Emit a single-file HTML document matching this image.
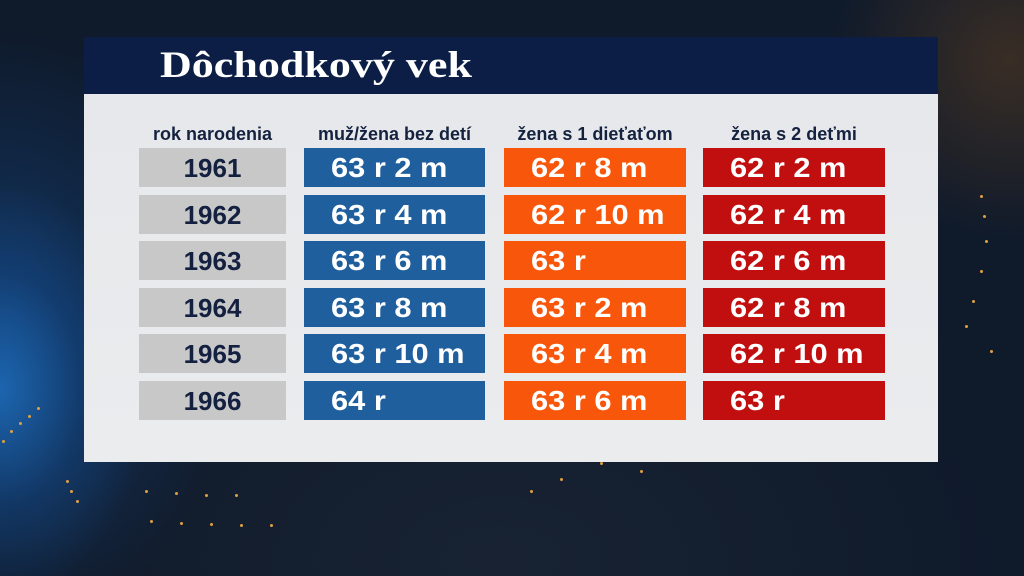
<!DOCTYPE html>
<html><head><meta charset="utf-8">
<style>
html,body{margin:0;padding:0;}
body{width:1024px;height:576px;overflow:hidden;position:relative;
background:
 radial-gradient(ellipse 150px 210px at 0px 390px, rgba(30,110,190,0.85), rgba(20,80,150,0.4) 55%, rgba(0,0,0,0) 100%),
 radial-gradient(ellipse 240px 300px at 0px 330px, rgba(20,70,130,0.65), rgba(0,0,0,0) 100%),
 radial-gradient(ellipse 180px 180px at 1010px 60px, rgba(100,65,30,0.5), rgba(0,0,0,0) 100%),
 radial-gradient(ellipse 500px 300px at 500px 560px, rgba(30,40,55,0.6), rgba(0,0,0,0) 100%),
 #0f1a2b;
font-family:"Liberation Sans",sans-serif;}
.title{position:absolute;left:84px;top:37px;width:854px;height:57px;background:#0c1e46;}
.title span{position:absolute;left:76px;top:7px;font-family:"Liberation Serif",serif;font-weight:bold;font-size:37px;color:#fff;transform:scaleX(1.19);transform-origin:0 0;white-space:nowrap;}
.panel{position:absolute;left:84px;top:94px;width:854px;height:368px;background:linear-gradient(180deg,#e6e8eb,#eaecee);}
.h{position:absolute;top:124px;height:22px;font-weight:bold;font-size:18px;color:#15223f;text-align:center;white-space:nowrap;}
.c{position:absolute;height:39px;line-height:39px;font-weight:bold;font-size:26px;white-space:nowrap;}
.y{background:#c8c8c9;color:#14203f;text-align:center;left:139px;width:147px;line-height:40px;}
.b{background:#1f5f9e;color:#fff;left:304px;width:181px;}
.o{background:#f8570b;color:#fff;left:504px;width:182px;}
.r{background:#c10f10;color:#fff;left:703px;width:182px;}
.b span,.o span,.r span{position:absolute;left:27px;top:0;font-size:28px;transform:scaleX(1.1);transform-origin:0 0;}
.dot{position:absolute;width:3px;height:3px;border-radius:50%;background:#e0a040;}
</style></head><body>
<div class="title"><span>Dôchodkový vek</span></div>
<div class="panel"></div>

<div class="h" style="left:139px;width:147px;">rok narodenia</div>
<div class="h" style="left:304px;width:181px;">muž/žena bez detí</div>
<div class="h" style="left:504px;width:182px;">žena s 1 dieťaťom</div>
<div class="h" style="left:703px;width:182px;">žena s 2 deťmi</div>

<div class="c y" style="top:148px">1961</div>
<div class="c b" style="top:148px"><span>63 r 2 m</span></div>
<div class="c o" style="top:148px"><span>62 r 8 m</span></div>
<div class="c r" style="top:148px"><span>62 r 2 m</span></div>

<div class="c y" style="top:194.5px">1962</div>
<div class="c b" style="top:194.5px"><span>63 r 4 m</span></div>
<div class="c o" style="top:194.5px"><span>62 r 10 m</span></div>
<div class="c r" style="top:194.5px"><span>62 r 4 m</span></div>

<div class="c y" style="top:241px">1963</div>
<div class="c b" style="top:241px"><span>63 r 6 m</span></div>
<div class="c o" style="top:241px"><span>63 r</span></div>
<div class="c r" style="top:241px"><span>62 r 6 m</span></div>

<div class="c y" style="top:287.5px">1964</div>
<div class="c b" style="top:287.5px"><span>63 r 8 m</span></div>
<div class="c o" style="top:287.5px"><span>63 r 2 m</span></div>
<div class="c r" style="top:287.5px"><span>62 r 8 m</span></div>

<div class="c y" style="top:334px">1965</div>
<div class="c b" style="top:334px"><span>63 r 10 m</span></div>
<div class="c o" style="top:334px"><span>63 r 4 m</span></div>
<div class="c r" style="top:334px"><span>62 r 10 m</span></div>

<div class="c y" style="top:381px">1966</div>
<div class="c b" style="top:381px"><span>64 r</span></div>
<div class="c o" style="top:381px"><span>63 r 6 m</span></div>
<div class="c r" style="top:381px"><span>63 r</span></div>

<div class="dot" style="left:980px;top:195px"></div>
<div class="dot" style="left:983px;top:215px"></div>
<div class="dot" style="left:985px;top:240px"></div>
<div class="dot" style="left:980px;top:270px"></div>
<div class="dot" style="left:972px;top:300px"></div>
<div class="dot" style="left:965px;top:325px"></div>
<div class="dot" style="left:990px;top:350px"></div>
<div class="dot" style="left:2px;top:440px"></div>
<div class="dot" style="left:10px;top:430px"></div>
<div class="dot" style="left:19px;top:422px"></div>
<div class="dot" style="left:28px;top:415px"></div>
<div class="dot" style="left:37px;top:407px"></div>
<div class="dot" style="left:66px;top:480px"></div>
<div class="dot" style="left:70px;top:490px"></div>
<div class="dot" style="left:76px;top:500px"></div>
<div class="dot" style="left:150px;top:520px"></div>
<div class="dot" style="left:180px;top:522px"></div>
<div class="dot" style="left:210px;top:523px"></div>
<div class="dot" style="left:240px;top:524px"></div>
<div class="dot" style="left:270px;top:524px"></div>
<div class="dot" style="left:145px;top:490px"></div>
<div class="dot" style="left:175px;top:492px"></div>
<div class="dot" style="left:205px;top:494px"></div>
<div class="dot" style="left:235px;top:494px"></div>
<div class="dot" style="left:530px;top:490px"></div>
<div class="dot" style="left:560px;top:478px"></div>
<div class="dot" style="left:600px;top:462px"></div>
<div class="dot" style="left:640px;top:470px"></div>
</body></html>
